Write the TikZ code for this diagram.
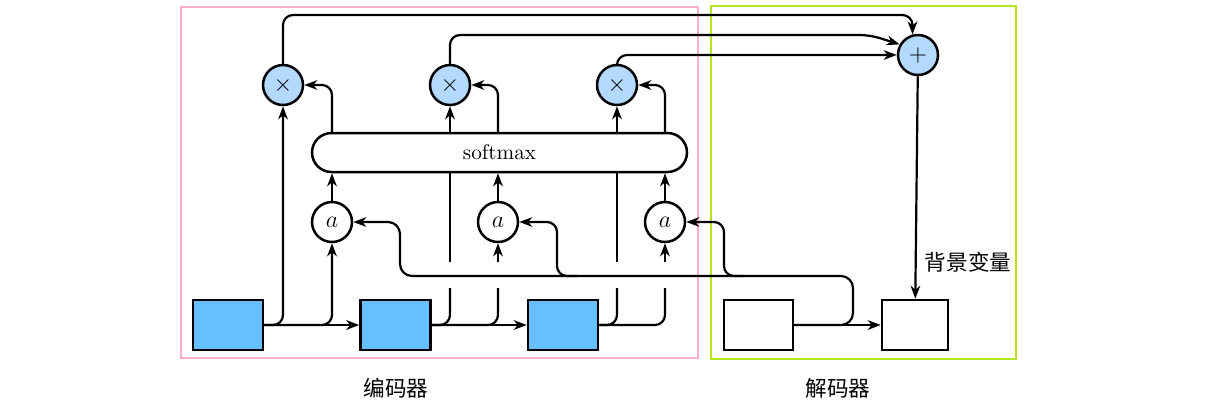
\documentclass[tikz,border=0pt]{standalone}
\usepackage{fontspec}
\usepackage{tkz-euclide}
\usetikzlibrary{arrows.meta,calc,shapes.misc}
\newfontfamily\cjk{Noto Sans CJK SC}
\definecolor{encblue}{HTML}{66BFFF}
\definecolor{opblue}{HTML}{B3D9FF}
\definecolor{encpink}{HTML}{FFAEC9}
\definecolor{declime}{HTML}{B5E61D}
\tikzset{
    enc/.style={draw, line width=1.25pt, fill=encblue, minimum width=35pt, minimum height=25pt, inner sep=0pt},
    dec/.style={draw, line width=1.25pt, fill=white, minimum width=34.5pt, minimum height=25pt, inner sep=0pt},
    op/.style={circle, draw, line width=1.25pt, fill=opblue, minimum size=20pt, inner sep=0pt, font=\large},
    score/.style={circle, draw, line width=1.25pt, fill=white, minimum size=20pt, inner sep=0pt, font=\large},
    smbox/.style={rounded rectangle, draw, line width=1.25pt, fill=white, minimum width=187.5pt, minimum height=19.5pt, inner sep=0pt, font=\fontsize{10.6}{12}\selectfont},
    zhtxt/.style={font=\cjk\fontsize{10.8}{13}\selectfont},
    zone/.style={line width=1.25pt}
}

\begin{document}
\begin{tikzpicture}[x=0.5pt, y=-0.5pt, line width=1.1pt,
    >={Stealth[length=6.5pt,width=4.8pt,inset=2pt]}]
    \useasboundingbox (0,0) rectangle (1220,409);
    \tkzDefPoints{853/276/bus,400/276/tA,557/276/tB,724/276/tC,0/288/lo,0/262/hi,0/15/r1,870/35/k}
    \draw[zone, encpink] (181,7) rectangle (698,358);
    \draw[zone, declime] (711,6) rectangle (1016,359);
    \node[zhtxt] (enctxt) at (396,388) {编码器};
    \node[zhtxt] (dectxt) at (838,388) {解码器};
    \node[enc] (h1) at (228,325) {};
    \node[enc] (h2) at (395.5,325) {};
    \node[enc] (h3) at (563,325) {};
    \node[dec] (s1) at (758.5,325) {};
    \node[dec, minimum width=33pt] (s2) at (915,325) {};
    \node[op] (m1) at (283,85) {$\times$};
    \node[op] (m2) at (450,85) {$\times$};
    \node[op] (m3) at (617,85) {$\times$};
    \node[op] (c) at (918,55) {$+$};
    \node[score] (a1) at (332,222) {$a$};
    \node[score] (a2) at (498,222) {$a$};
    \node[score] (a3) at (665,222) {$a$};
    \node[smbox] (sm) at (499.5,152.5) {softmax};
    \node[zhtxt] (ctx) at (968,262) {背景变量};
    \draw[->] (h1) -- (h2);
    \draw[->] (h2) -- (h3);
    \draw[->] (s1) -- (s2);
    \draw[->, rounded corners=5pt] (h1.east) -| (m1.south);
    \draw[->, rounded corners=5pt] (h1.east) -| (a1.south);
    \draw[rounded corners=5pt] (h2.east) -| (m2 |- lo);
    \draw[rounded corners=5pt] (h2.east) -| (a2 |- lo);
    \draw[rounded corners=5pt] (h3.east) -| (m3 |- lo);
    \draw[rounded corners=5pt] (h3.east) -| (a3 |- lo);
    \draw (m2 |- hi) -- (m2 |- sm.south);
    \draw (m3 |- hi) -- (m3 |- sm.south);
    \draw[->] (m2 |- sm.north) -- (m2);
    \draw[->] (m3 |- sm.north) -- (m3);
    \draw[->] (a2 |- hi) -- (a2);
    \draw[->] (a3 |- hi) -- (a3);
    \foreach \i in {1,2,3} {
        \draw[->] (a\i) -- (a\i |- sm.south);
        \draw[->, rounded corners=5pt] (a\i |- sm.north) |- (m\i.east);
    }
    \draw[->, rounded corners=5pt] (m1.north) |- (c.105 |- r1) -- (c.105);
    \draw[->, rounded corners=5pt] (m2.north) |- (k) -- (c.150);
    \draw[->, rounded corners=5pt] (m3.north) |- (c.west);
    \draw[->] (c) -- (s2);
    \draw[->, rounded corners=6pt] (s1.east) -| (bus) -| (tA |- a1.east) -- (a1.east);
    \draw[->, rounded corners=5pt] ($(tB)+(20,0)$) -| (tB |- a2.east) -- (a2.east);
    \draw[->, rounded corners=5pt] ($(tC)+(20,0)$) -| (tC |- a3.east) -- (a3.east);
\end{tikzpicture}
\end{document}
